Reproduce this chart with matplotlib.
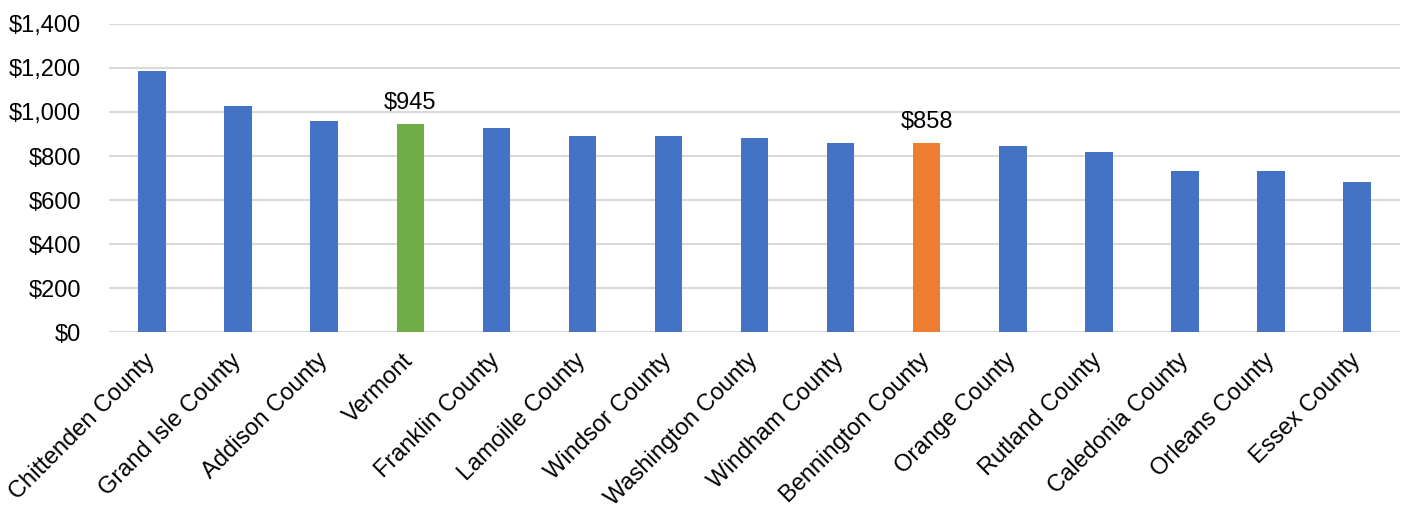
import matplotlib
matplotlib.use("Agg")
import matplotlib.pyplot as plt
from matplotlib.ticker import FuncFormatter

plt.rcParams['font.family'] = ['Liberation Sans', 'DejaVu Sans']

counties = ["Chittenden County", "Grand Isle County", "Addison County", "Vermont",
            "Franklin County", "Lamoille County", "Windsor County", "Washington County",
            "Windham County", "Bennington County", "Orange County", "Rutland County",
            "Caledonia County", "Orleans County", "Essex County"]
values = [1186, 1028, 958, 945, 929, 893, 889, 880, 860, 858, 844, 818, 734, 732, 684]
labelled = ["Vermont", "Bennington County"]

blue, green, orange = "#4472C4", "#70AD47", "#ED7D31"
colors = []
for c in counties:
    if c == "Vermont":
        colors.append(green)
    elif c == "Bennington County":
        colors.append(orange)
    else:
        colors.append(blue)

fig = plt.figure(figsize=(14.05, 5.08), dpi=100)
ax = fig.add_axes([0.0776, 0.346, 0.9189, 0.607])

x = range(len(counties))
bars = ax.bar(x, values, width=0.32, color=colors, zorder=3)
for b, c, v in zip(bars, counties, values):
    if c in labelled:
        ax.text(b.get_x() + b.get_width() / 2, v + 45, f"${v:,}", ha="center",
                va="bottom", fontsize=17)

ax.set_ylim(0, 1400)
ax.set_yticks(range(0, 1401, 200))
ax.yaxis.set_major_formatter(FuncFormatter(lambda v, p: f"${int(v):,}"))
ax.set_xlim(-0.5, 14.5)
ax.set_xticks(list(x))
ax.set_xticklabels(counties, rotation=45, ha="right", va="center", rotation_mode="anchor")
ax.tick_params(axis="both", length=0, labelsize=17)
ax.tick_params(axis="y", pad=20)
ax.tick_params(axis="x", pad=18)
ax.grid(axis="y", color="#D9D9D9", linewidth=1.5, zorder=0)
for s in ax.spines.values():
    s.set_visible(False)

fig.savefig("out.png", dpi=100)
